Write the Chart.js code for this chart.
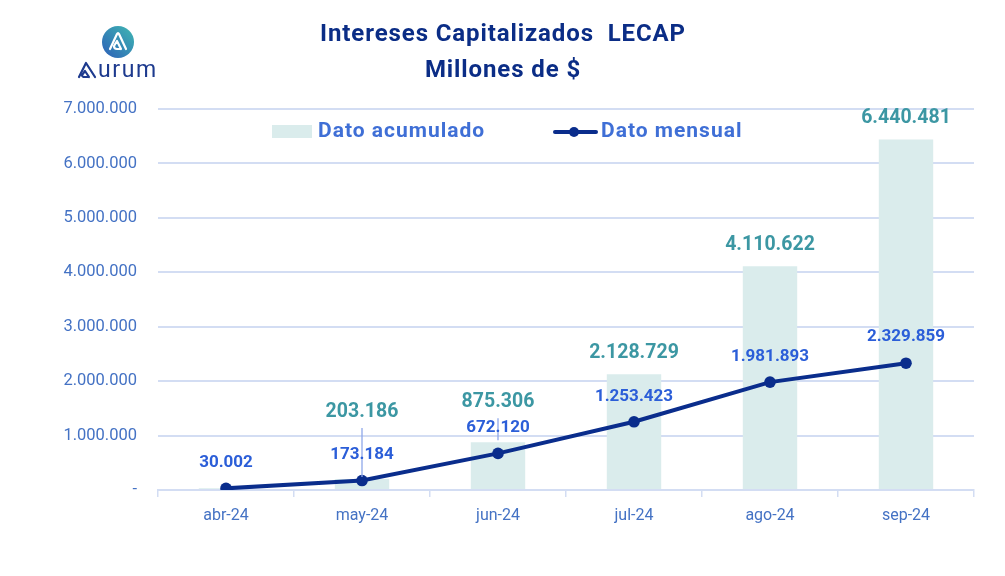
<!DOCTYPE html>
<html>
<head>
<meta charset="utf-8">
<script src="https://cdn.jsdelivr.net/npm/chart.js@4.4.1/dist/chart.umd.min.js"></script>
<style>
  html, body { margin: 0; padding: 0; background: #ffffff; }
  #wrap { position: relative; width: 1005px; height: 576px; }
  canvas { display: block; }
</style>
</head>
<body>
<div id="wrap"><canvas id="c" width="1005" height="576"></canvas></div>
<script>
// ---- data ----
const categories = ["abr-24", "may-24", "jun-24", "jul-24", "ago-24", "sep-24"];
const acumulado = [30002, 203186, 875306, 2128729, 4110622, 6440481];
const mensual = [30002, 173184, 672120, 1253423, 1981893, 2329859];
const yTicks = [0, 1000000, 2000000, 3000000, 4000000, 5000000, 6000000, 7000000];
const titleLines = ["Intereses Capitalizados  LECAP", "Millones de $"];
const seriesNames = ["Dato acumulado", "Dato mensual"];
// label placement (pixels above mark); null = hide label
const barLabelLift = [null, 67, 40, 21, 21, 21];
const lineLabelLift = [26, 26, 26, 25, 25, 26];

const FONT = "Roboto, 'Noto Sans', sans-serif";
const fmt = v => v === 0 ? "-" : v.toLocaleString("de-DE");

const C_BAR = "#DAECEC";
const C_LINE = "#0A2D8C";
const C_BARLBL = "#3C97A3";
const C_LINELBL = "#2B5ED8";
const C_AXIS = "#4472C4";
const C_GRID = "#D3DDF3";
const C_TITLE = "#0B2D86";

const labelsPlugin = {
  id: "labels",
  afterDatasetsDraw(chart) {
    const ctx = chart.ctx;
    ctx.save();
    ctx.textAlign = "center";
    ctx.textBaseline = "middle";
    const barMeta = chart.getDatasetMeta(0);
    barMeta.data.forEach((el, i) => {
      if (barLabelLift[i] === null) return;
      const y = el.y - barLabelLift[i];
      if (barLabelLift[i] > 30) {
        ctx.strokeStyle = "#8EA8EA";
        ctx.lineWidth = 1.3;
        ctx.beginPath();
        ctx.moveTo(el.x, y + 16);
        ctx.lineTo(el.x, el.y - 2);
        ctx.stroke();
      }
    });
    const lineMeta = chart.getDatasetMeta(1);
    ctx.font = "bold 17px " + FONT;
    ctx.fillStyle = C_LINELBL;
    lineMeta.data.forEach((el, i) => {
      ctx.fillText(fmt(mensual[i]), el.x, el.y - lineLabelLift[i]);
    });
    ctx.font = "bold 19.5px " + FONT;
    ctx.fillStyle = C_BARLBL;
    barMeta.data.forEach((el, i) => {
      if (barLabelLift[i] === null) return;
      ctx.fillText(fmt(acumulado[i]), el.x, el.y - barLabelLift[i]);
    });
    ctx.restore();
  }
};

const titleLegendPlugin = {
  id: "titleLegend",
  afterDraw(chart) {
    const ctx = chart.ctx;
    ctx.save();
    // title
    ctx.fillStyle = C_TITLE;
    ctx.font = "bold 24px " + FONT;
    ctx.letterSpacing = "0.9px";
    ctx.textAlign = "center";
    ctx.textBaseline = "middle";
    ctx.fillText(titleLines[0], 503, 35);
    ctx.fillText(titleLines[1], 503, 71);
    // legend
    ctx.fillStyle = C_BAR;
    ctx.fillRect(272, 125, 40, 13);
    ctx.font = "bold 21px " + FONT;
    ctx.letterSpacing = "1px";
    ctx.fillStyle = "#3F6FD6";
    ctx.textAlign = "left";
    ctx.fillText(seriesNames[0], 318, 132);
    ctx.strokeStyle = C_LINE;
    ctx.lineWidth = 4;
    ctx.lineCap = "round";
    ctx.beginPath();
    ctx.moveTo(555, 132);
    ctx.lineTo(596, 132);
    ctx.stroke();
    ctx.fillStyle = C_LINE;
    ctx.beginPath();
    ctx.arc(574, 132, 5, 0, Math.PI * 2);
    ctx.fill();
    ctx.fillStyle = "#3F6FD6";
    ctx.fillText(seriesNames[1], 601, 132);
    ctx.restore();
  }
};

const logoPlugin = {
  id: "logo",
  afterDraw(chart) {
    const ctx = chart.ctx;
    ctx.save();
    const cx = 118, cy = 42, r = 16;
    const g = ctx.createLinearGradient(cx - r, cy + r, cx + r, cy - r);
    g.addColorStop(0, "#2D5FB8");
    g.addColorStop(1, "#3FB8B2");
    ctx.fillStyle = g;
    ctx.beginPath();
    ctx.arc(cx, cy, r, 0, Math.PI * 2);
    ctx.fill();
    // white A mark
    ctx.strokeStyle = "#ffffff";
    ctx.lineWidth = 2.2;
    ctx.lineJoin = "round";
    ctx.lineCap = "round";
    ctx.beginPath();
    ctx.moveTo(cx - 8, cy + 7);
    ctx.lineTo(cx - 1, cy - 8);
    ctx.quadraticCurveTo(cx, cy - 10, cx + 1, cy - 8);
    ctx.lineTo(cx + 8, cy + 7);
    ctx.stroke();
    ctx.beginPath();
    ctx.moveTo(cx + 3, cy + 7);
    ctx.lineTo(cx - 1, cy - 1);
    ctx.lineTo(cx - 4, cy + 4);
    ctx.quadraticCurveTo(cx - 4, cy + 7, cx - 1, cy + 7);
    ctx.lineTo(cx + 3, cy + 7);
    ctx.stroke();
    // wordmark
    ctx.strokeStyle = "#1D3A8E";
    ctx.lineWidth = 2.2;
    const ax = 79, ay = 77;
    ctx.beginPath();
    ctx.moveTo(ax, ay);
    ctx.lineTo(ax + 7, ay - 14);
    ctx.lineTo(ax + 16, ay);
    ctx.stroke();
    ctx.beginPath();
    ctx.moveTo(ax + 10, ay);
    ctx.lineTo(ax + 6, ay - 6);
    ctx.lineTo(ax + 3, ay - 2);
    ctx.quadraticCurveTo(ax + 3, ay, ax + 6, ay);
    ctx.lineTo(ax + 10, ay);
    ctx.stroke();
    ctx.fillStyle = "#1D3A8E";
    ctx.font = "23px " + FONT;
    ctx.letterSpacing = "1.6px";
    ctx.textBaseline = "alphabetic";
    ctx.textAlign = "left";
    ctx.fillText("urum", 98, 77);
    ctx.restore();
  }
};

new Chart(document.getElementById("c"), {
  data: {
    labels: categories,
    datasets: [
      {
        type: "bar",
        label: seriesNames[0],
        data: acumulado,
        backgroundColor: C_BAR,
        categoryPercentage: 0.8,
        barPercentage: 0.5,
        order: 2
      },
      {
        type: "line",
        label: seriesNames[1],
        data: mensual,
        borderColor: C_LINE,
        backgroundColor: C_LINE,
        borderWidth: 4,
        pointRadius: 5.8,
        pointHoverRadius: 5.8,
        pointBackgroundColor: C_LINE,
        pointBorderWidth: 0,
        tension: 0,
        order: 1
      }
    ]
  },
  options: {
    responsive: false,
    animation: false,
    layout: { padding: { left: 0, right: 31, top: 109, bottom: 0 } },
    plugins: {
      legend: { display: false },
      tooltip: { enabled: false },
      title: { display: false }
    },
    scales: {
      x: {
        offset: true,
        grid: {
          offset: true,
          drawOnChartArea: false,
          drawTicks: true,
          tickLength: 7,
          color: C_GRID,
          lineWidth: 1.5
        },
        border: { display: true, color: C_GRID, width: 2 },
        ticks: {
          color: C_AXIS,
          font: { family: FONT, size: 16 },
          padding: 9
        },
        afterFit(scale) { scale.height = 86; }
      },
      y: {
        min: 0,
        max: 7000000,
        afterBuildTicks(scale) { scale.ticks = yTicks.map(v => ({ value: v })); },
        grid: { color: C_GRID, lineWidth: 2, drawTicks: false },
        border: { display: false },
        ticks: {
          color: C_AXIS,
          font: { family: FONT, size: 16.5 },
          padding: 21,
          callback: v => fmt(v)
        },
        afterFit(scale) { scale.width = 158; }
      }
    }
  },
  plugins: [labelsPlugin, titleLegendPlugin, logoPlugin]
});
</script>
</body>
</html>
